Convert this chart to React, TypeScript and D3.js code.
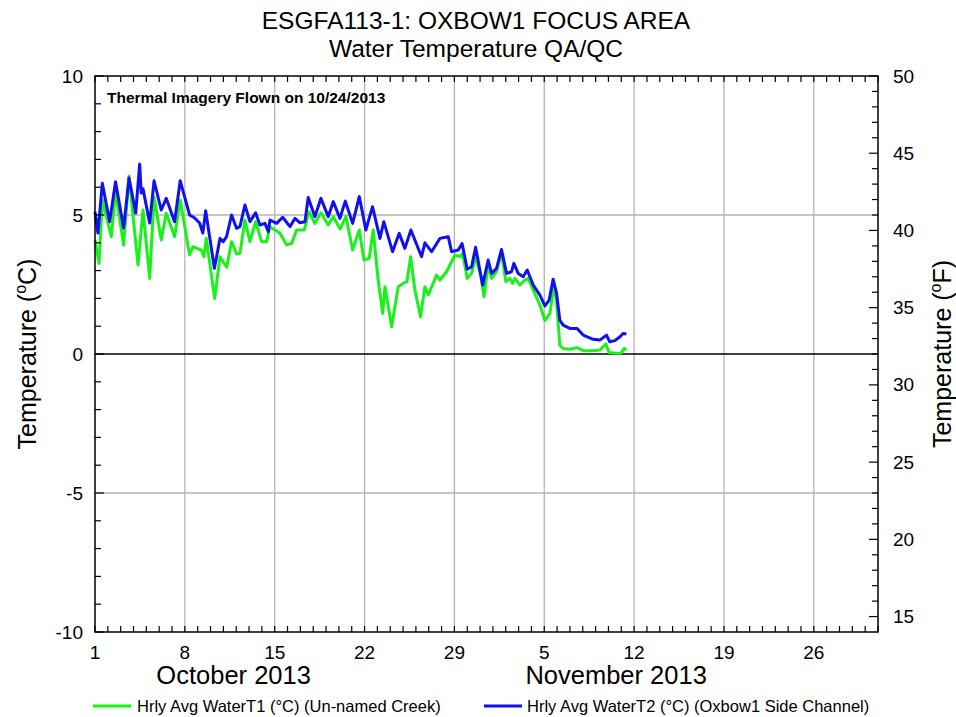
import React from "react";
import * as d3 from "d3";

// Hourly averaged water temperature (°C), [days since Oct 1 2013 00:00, value]
const waterT1: [number, number][] = [
  [0, 4.1], [0.31, 3.26], [0.57, 5.54], [1.27, 4.22], [1.6, 5.84], [2.23, 3.92], [2.65, 6.4],
  [3.35, 3.2], [3.74, 5.18], [4.26, 2.72], [4.6, 5.66], [5.16, 4.1], [5.55, 5.06], [6.2, 4.22],
  [6.64, 5.54], [7.37, 3.56], [7.63, 3.86], [8.28, 3.74], [8.49, 3.5], [8.67, 4.16], [9.32, 2.0],
  [9.74, 3.5], [10.26, 3.12], [10.64, 4.04], [11.03, 3.6], [11.29, 3.62], [11.68, 4.82],
  [12.07, 4.04], [12.51, 4.76], [12.98, 4.04], [13.37, 4.04], [13.63, 4.58], [14.41, 4.34],
  [14.93, 3.92], [15.32, 3.98], [15.71, 4.46], [16.3, 4.46], [16.67, 5.12], [17.13, 4.7],
  [17.6, 5.08], [18.17, 4.64], [18.56, 4.94], [19.1, 4.5], [19.55, 4.94], [20.07, 3.74],
  [20.59, 4.46], [20.95, 3.38], [21.36, 3.44], [21.67, 4.46], [22.06, 2.66], [22.41, 1.46],
  [22.59, 2.42], [23.11, 0.98], [23.62, 2.42], [24.01, 2.54], [24.3, 2.6], [24.59, 3.5],
  [24.92, 2.3], [25.36, 1.34], [25.7, 2.42], [25.96, 2.12], [26.61, 2.84], [26.87, 2.66],
  [27.39, 2.96], [28.04, 3.56], [28.43, 3.5], [28.64, 3.62], [29.0, 2.72], [29.34, 2.9],
  [29.65, 3.5], [30.05, 2.84], [30.3, 2.06], [30.63, 3.2], [30.9, 2.72], [31.28, 2.96],
  [31.67, 3.62], [32.01, 2.6], [32.32, 2.72], [32.53, 2.54], [32.71, 2.72], [33.1, 2.48],
  [33.49, 2.66], [33.75, 2.72], [34.14, 2.3], [34.66, 1.76], [35.05, 1.2], [35.44, 1.46],
  [35.75, 2.48], [35.96, 1.88], [36.21, 0.32], [36.47, 0.2], [36.99, 0.17], [37.56, 0.23],
  [38.03, 0.12], [38.81, 0.12], [39.33, 0.14], [39.8, 0.36], [40.05, 0.05], [40.6, 0.03],
  [41.0, 0.04], [41.22, 0.2], [41.4, 0.14],
];

const waterT2: [number, number][] = [
  [0, 5.12], [0.23, 4.35], [0.57, 6.14], [1.14, 4.76], [1.6, 6.2], [2.23, 4.53], [2.65, 6.33],
  [3.17, 5.07], [3.48, 6.83], [3.6, 5.79], [3.74, 5.94], [4.26, 4.71], [4.6, 6.23], [5.16, 5.18],
  [5.55, 5.6], [6.2, 4.76], [6.64, 6.23], [7.37, 5.0], [7.76, 4.89], [8.15, 4.71], [8.4, 4.35],
  [8.62, 5.15], [8.93, 4.22], [9.3, 3.08], [9.74, 4.16], [9.99, 4.04], [10.25, 4.22],
  [10.64, 5.0], [11.03, 4.52], [11.29, 4.58], [11.68, 5.36], [12.07, 4.76], [12.51, 5.08],
  [12.85, 4.64], [13.24, 4.7], [13.5, 4.4], [13.63, 4.82], [14.15, 4.7], [14.62, 4.92],
  [15.19, 4.58], [15.58, 4.88], [15.97, 4.72], [16.36, 4.76], [16.61, 5.63], [17.13, 4.94],
  [17.6, 5.6], [18.17, 4.94], [18.56, 5.48], [19.08, 4.88], [19.5, 5.5], [20.07, 4.7],
  [20.59, 5.66], [21.1, 4.46], [21.62, 5.3], [22.2, 4.16], [22.5, 4.76], [23.18, 3.68],
  [23.7, 4.34], [24.14, 3.8], [24.61, 4.46], [25.44, 3.5], [25.7, 4.0], [26.22, 3.68],
  [26.87, 4.16], [27.52, 4.22], [27.78, 3.68], [28.3, 3.74], [28.6, 3.97], [29.0, 3.05],
  [29.34, 3.14], [29.65, 3.84], [30.2, 2.48], [30.63, 3.38], [30.9, 2.9], [31.28, 3.08],
  [31.67, 3.76], [32.06, 2.9], [32.45, 2.96], [32.63, 3.26], [32.97, 2.9], [33.36, 2.78],
  [33.67, 3.02], [34.14, 2.48], [34.66, 2.12], [35.05, 1.73], [35.38, 1.94], [35.69, 2.69],
  [35.96, 2.18], [36.21, 1.22], [36.47, 1.04], [36.99, 0.92], [37.56, 0.92], [38.03, 0.68],
  [38.81, 0.53], [39.33, 0.5], [39.85, 0.68], [40.1, 0.44], [40.5, 0.48], [40.9, 0.62],
  [41.14, 0.74], [41.4, 0.72],
];

const celsiusTicks = [-10, -5, 0, 5, 10];
const fahrenheitTicks = [15, 20, 25, 30, 35, 40, 45, 50];
const majorDayTicks = ["2013-10-01", "2013-10-08", "2013-10-15", "2013-10-22", "2013-10-29", "2013-11-05", "2013-11-12", "2013-11-19", "2013-11-26"];
const monthLabels: [string, number][] = [["October 2013", 10.8], ["November 2013", 40.6]];
const legendLabels = ["Hrly Avg WaterT1 (°C) (Un-named Creek)", "Hrly Avg WaterT2 (°C) (Oxbow1 Side Channel)"];
const seriesColors = ["#19f219", "#1010f0"];

const W = 956, H = 717;
const L = 95, R = 878, T = 76, B = 632;
const FONT = "'Liberation Sans', Arial, sans-serif";
const startMs = Date.UTC(2013, 9, 1);
const toDate = (d: number) => new Date(startMs + d * 864e5);

export default function App() {
  const x = d3.scaleUtc().domain([new Date(Date.UTC(2013, 9, 1)), new Date(Date.UTC(2013, 11, 1))]).range([L, R]);
  const y = d3.scaleLinear().domain([-10, 10]).range([B, T]);
  const yF = d3.scaleLinear().domain([-10 * 1.8 + 32, 10 * 1.8 + 32]).range([B, T]);

  const line = d3.line<[number, number]>().x((p) => x(toDate(p[0]))).y((p) => y(p[1]));

  const days = d3.utcDay.range(new Date(Date.UTC(2013, 9, 1)), new Date(Date.UTC(2013, 11, 2)));
  const majors = majorDayTicks.map((s) => new Date(s + "T00:00:00Z"));
  const cMinor = d3.range(-10, 10.01, 1);
  const fMinor = d3.range(15, 50.01, 1);

  return (
    <svg width={W} height={H} style={{ position: "absolute", left: 0, top: 0, background: "#fff" }} fontFamily={FONT}>
      <rect x={0} y={0} width={W} height={H} fill="#fff" />
      {/* title */}
      <text x={476} y={29} textAnchor="middle" fontSize={24.5}>ESGFA113-1: OXBOW1 FOCUS AREA</text>
      <text x={476} y={57} textAnchor="middle" fontSize={24.5}>Water Temperature QA/QC</text>

      {/* grid */}
      {majors.slice(1).map((d, i) => (
        <line key={"vg" + i} x1={x(d)} x2={x(d)} y1={T} y2={B} stroke="#b4b4b4" strokeWidth={1.3} />
      ))}
      {[5, -5].map((v) => (
        <line key={"hg" + v} x1={L} x2={R} y1={y(v)} y2={y(v)} stroke="#b4b4b4" strokeWidth={1.3} />
      ))}
      <line x1={L} x2={R} y1={y(0)} y2={y(0)} stroke="#000" strokeWidth={1.5} />

      {/* series */}
      <path d={line(waterT1) || ""} fill="none" stroke={seriesColors[0]} strokeWidth={3} strokeLinejoin="round" />
      <path d={line(waterT2) || ""} fill="none" stroke={seriesColors[1]} strokeWidth={3} strokeLinejoin="round" />

      {/* ticks */}
      {days.map((d, i) => (
        <g key={"dt" + i}>
          <line x1={x(d)} x2={x(d)} y1={T} y2={T + 6} stroke="#000" strokeWidth={1.2} />
          <line x1={x(d)} x2={x(d)} y1={B} y2={B - 6} stroke="#000" strokeWidth={1.2} />
        </g>
      ))}
      {cMinor.map((v) => (
        <line key={"ct" + v} x1={L} x2={L + (v % 5 === 0 ? 9 : 6)} y1={y(v)} y2={y(v)} stroke="#000" strokeWidth={1.2} />
      ))}
      {fMinor.map((v) => (
        <line key={"ft" + v} x1={R} x2={R - (v % 5 === 0 ? 9 : 6)} y1={yF(v)} y2={yF(v)} stroke="#000" strokeWidth={1.2} />
      ))}

      <rect x={L} y={T} width={R - L} height={B - T} fill="none" stroke="#000" strokeWidth={1.5} />

      {/* tick labels */}
      {celsiusTicks.map((v) => (
        <text key={"cl" + v} x={83} y={y(v) + 6.5} textAnchor="end" fontSize={19}>{v}</text>
      ))}
      {fahrenheitTicks.map((v) => (
        <text key={"fl" + v} x={893} y={yF(v) + 6.5} textAnchor="start" fontSize={19}>{v}</text>
      ))}
      {majors.map((d, i) => (
        <text key={"xl" + i} x={x(d)} y={659} textAnchor="middle" fontSize={19}>{d3.utcFormat("%-d")(d)}</text>
      ))}
      {monthLabels.map(([label, day]) => (
        <text key={label} x={x(toDate(day))} y={684} textAnchor="middle" fontSize={25.5}>{label}</text>
      ))}

      {/* axis titles */}
      <text transform={`translate(36,${(T + B) / 2}) rotate(-90)`} textAnchor="middle" fontSize={25}>
        Temperature (<tspan fontSize={16} dy={-10}>o</tspan><tspan dy={10}>C)</tspan>
      </text>
      <text transform={`translate(951,${(T + B) / 2}) rotate(-90)`} textAnchor="middle" fontSize={25}>
        Temperature (<tspan fontSize={16} dy={-10}>o</tspan><tspan dy={10}>F)</tspan>
      </text>

      {/* annotation */}
      <text x={107} y={103} fontSize={15.5} fontWeight="bold">Thermal Imagery Flown on 10/24/2013</text>

      {/* legend */}
      <line x1={93} x2={131} y1={706} y2={706} stroke={seriesColors[0]} strokeWidth={3} />
      <text x={137} y={712} fontSize={16.5}>{legendLabels[0]}</text>
      <line x1={484} x2={522} y1={706} y2={706} stroke={seriesColors[1]} strokeWidth={3} />
      <text x={527} y={712} fontSize={16.5}>{legendLabels[1]}</text>
    </svg>
  );
}
